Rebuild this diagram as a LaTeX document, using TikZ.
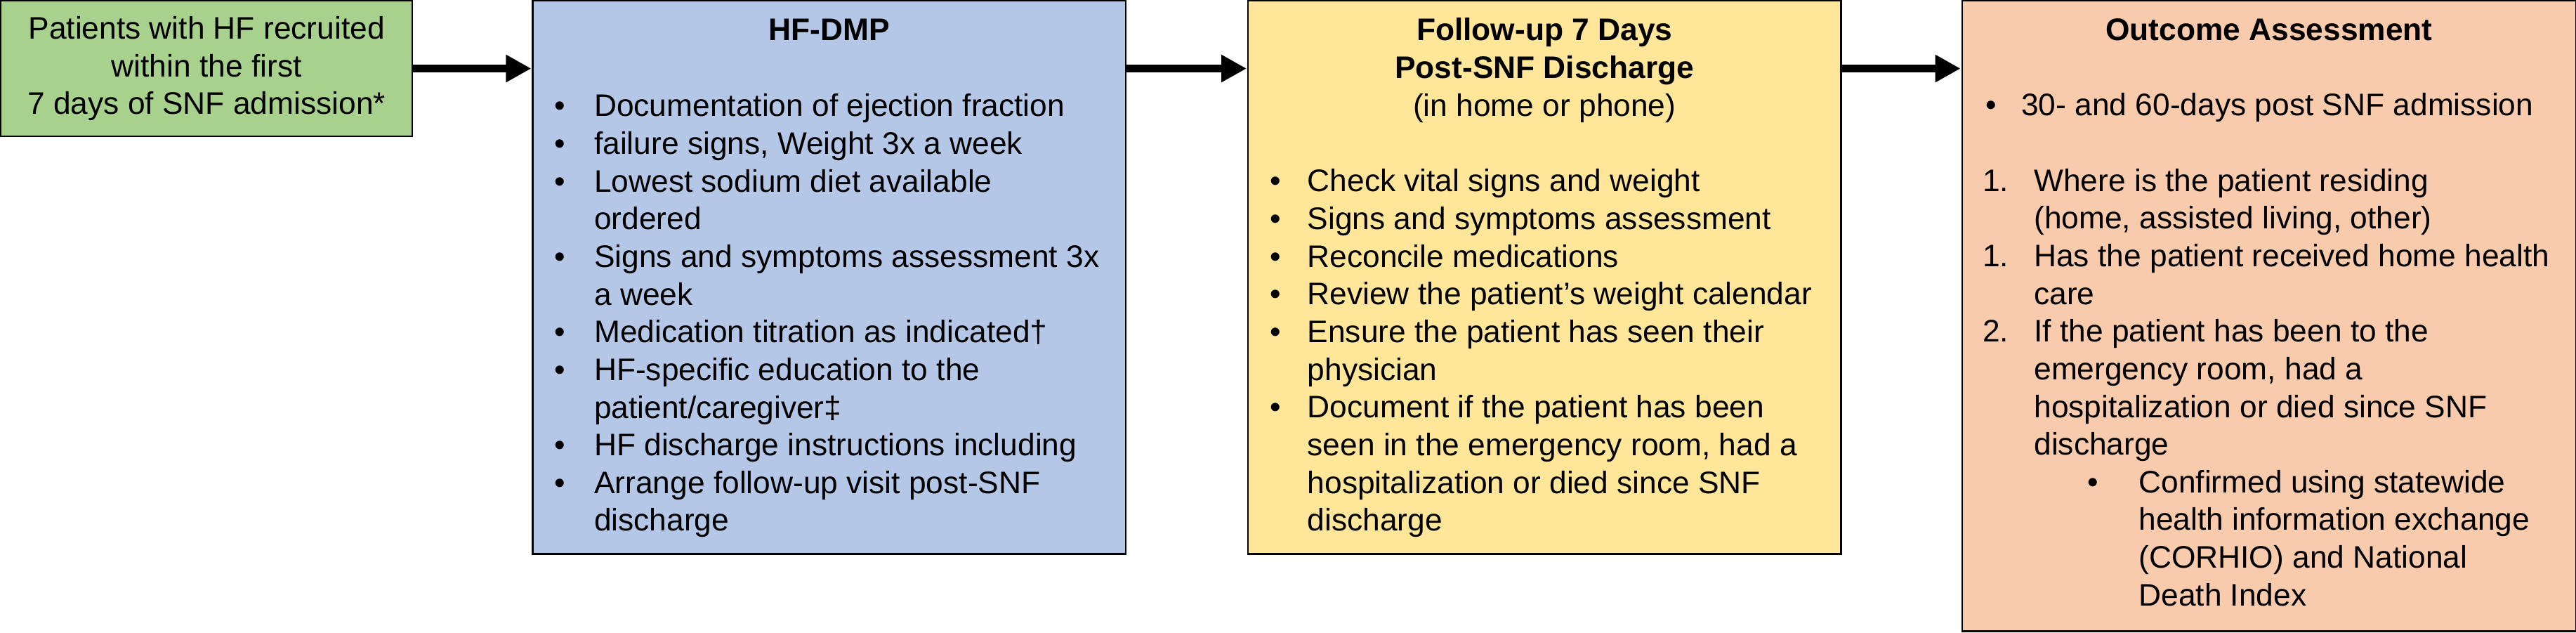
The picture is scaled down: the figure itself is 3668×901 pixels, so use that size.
\documentclass[tikz,border=0pt]{standalone}
\usepackage{fontspec}
\setmainfont{Liberation Sans}
\usetikzlibrary{arrows.meta}
\usetikzlibrary{positioning}
\usetikzlibrary{calc}

\definecolor{recruitgreen}{RGB}{169,209,142}
\definecolor{dmpblue}{RGB}{180,199,231}
\definecolor{followyellow}{RGB}{255,230,153}
\definecolor{outcomeorange}{RGB}{248,203,173}

\newcommand{\boxfont}{\fontsize{12.6}{15.25}\selectfont}
\newcommand{\mk}[2]{\makebox[#1][l]{#2}}

\begin{document}
\begin{tikzpicture}[x=0.01cm,y=-0.01cm,
    stage/.style={draw,line width=0.6pt,rectangle,anchor=north west,outer sep=0pt,inner sep=0pt},
    list text/.style={anchor=base west,inner sep=0pt,font=\boxfont},
    head text/.style={anchor=base,inner sep=0pt,font=\boxfont},
    flow/.style={-{Triangle[length=0.36cm,width=0.37cm]},line width=0.11cm,shorten >=0.02cm}]

  \useasboundingbox (0,0) rectangle (3668,901);

  % the four stages
  \node[stage,fill=recruitgreen,minimum width=5.86cm,minimum height=1.93cm,
        align=center,font=\boxfont] (recruit) at (1,1)
        {Patients with HF recruited\\within the first\\7 days of SNF admission*};
  \node[stage,fill=dmpblue,minimum width=8.44cm,minimum height=7.87cm,
        right=1.71cm of recruit.north east,anchor=north west] (dmp) {};
  \node[stage,fill=followyellow,minimum width=8.44cm,minimum height=7.87cm,
        right=1.74cm of dmp.north east,anchor=north west] (follow) {};
  \node[stage,fill=outcomeorange,minimum width=8.74cm,minimum height=8.97cm,
        right=1.72cm of follow.north east,anchor=north west] (outcome) {};

  % headings
  \node[head text,font=\boxfont\bfseries] (dmp-head) at ($(dmp.north)+(0,57)$) {HF-DMP};
  \node[head text] (follow-head) at ($(follow.north)+(0,57)$)
    {\begin{tabular}[t]{@{}c@{}}
      \textbf{Follow-up 7 Days}\\
      \textbf{Post-SNF Discharge}\\
      (in home or phone)
    \end{tabular}};
  \node[head text,font=\boxfont\bfseries] (outcome-head) at ($(outcome.north)+(0,57)$) {Outcome Assessment};

  % lists
  \node[list text] (dmp-list) at ($(dmp.north west)+(30,165)$)
    {\begin{tabular}[t]{@{}l@{}}
      \mk{0.57cm}{\textbullet}Documentation of ejection fraction\\
      \mk{0.57cm}{\textbullet}failure signs, Weight 3x a week\\
      \mk{0.57cm}{\textbullet}Lowest sodium diet available\\
      \hspace*{0.57cm}ordered\\
      \mk{0.57cm}{\textbullet}Signs and symptoms assessment 3x\\
      \hspace*{0.57cm}a week\\
      \mk{0.57cm}{\textbullet}Medication titration as indicated†\\
      \mk{0.57cm}{\textbullet}HF-specific education to the\\
      \hspace*{0.57cm}patient/caregiver‡\\
      \mk{0.57cm}{\textbullet}HF discharge instructions including\\
      \mk{0.57cm}{\textbullet}Arrange follow-up visit post-SNF\\
      \hspace*{0.57cm}discharge
    \end{tabular}};
  \node[list text] (follow-list) at ($(follow.north west)+(31,272)$)
    {\begin{tabular}[t]{@{}l@{}}
      \mk{0.53cm}{\textbullet}Check vital signs and weight\\
      \mk{0.53cm}{\textbullet}Signs and symptoms assessment\\
      \mk{0.53cm}{\textbullet}Reconcile medications\\
      \mk{0.53cm}{\textbullet}Review the patient’s weight calendar\\
      \mk{0.53cm}{\textbullet}Ensure the patient has seen their\\
      \hspace*{0.53cm}physician\\
      \mk{0.53cm}{\textbullet}Document if the patient has been\\
      \hspace*{0.53cm}seen in the emergency room, had a\\
      \hspace*{0.53cm}hospitalization or died since SNF\\
      \hspace*{0.53cm}discharge
    \end{tabular}};
  \node[list text] (outcome-list) at ($(outcome.north west)+(29,164)$)
    {\begin{tabular}[t]{@{}l@{}}
      \hspace*{0.04cm}\mk{0.51cm}{\textbullet}30- and 60-days post SNF admission\\
      \mbox{}\\
      \mk{0.73cm}{1.}Where is the patient residing\\
      \hspace*{0.73cm}(home, assisted living, other)\\
      \mk{0.73cm}{1.}Has the patient received home health\\
      \hspace*{0.73cm}care\\
      \mk{0.73cm}{2.}If the patient has been to the\\
      \hspace*{0.73cm}emergency room, had a\\
      \hspace*{0.73cm}hospitalization or died since SNF\\
      \hspace*{0.73cm}discharge\\
      \hspace*{1.49cm}\mk{0.73cm}{\textbullet}Confirmed using statewide\\
      \hspace*{2.22cm}health information exchange\\
      \hspace*{2.22cm}(CORHIO) and National\\
      \hspace*{2.22cm}Death Index
    \end{tabular}};

  % arrows
  \draw[flow] (recruit.east) -- (recruit.east -| dmp.west);
  \draw[flow] (recruit.east -| dmp.east) -- (recruit.east -| follow.west);
  \draw[flow] (recruit.east -| follow.east) -- (recruit.east -| outcome.west);
\end{tikzpicture}
\end{document}
